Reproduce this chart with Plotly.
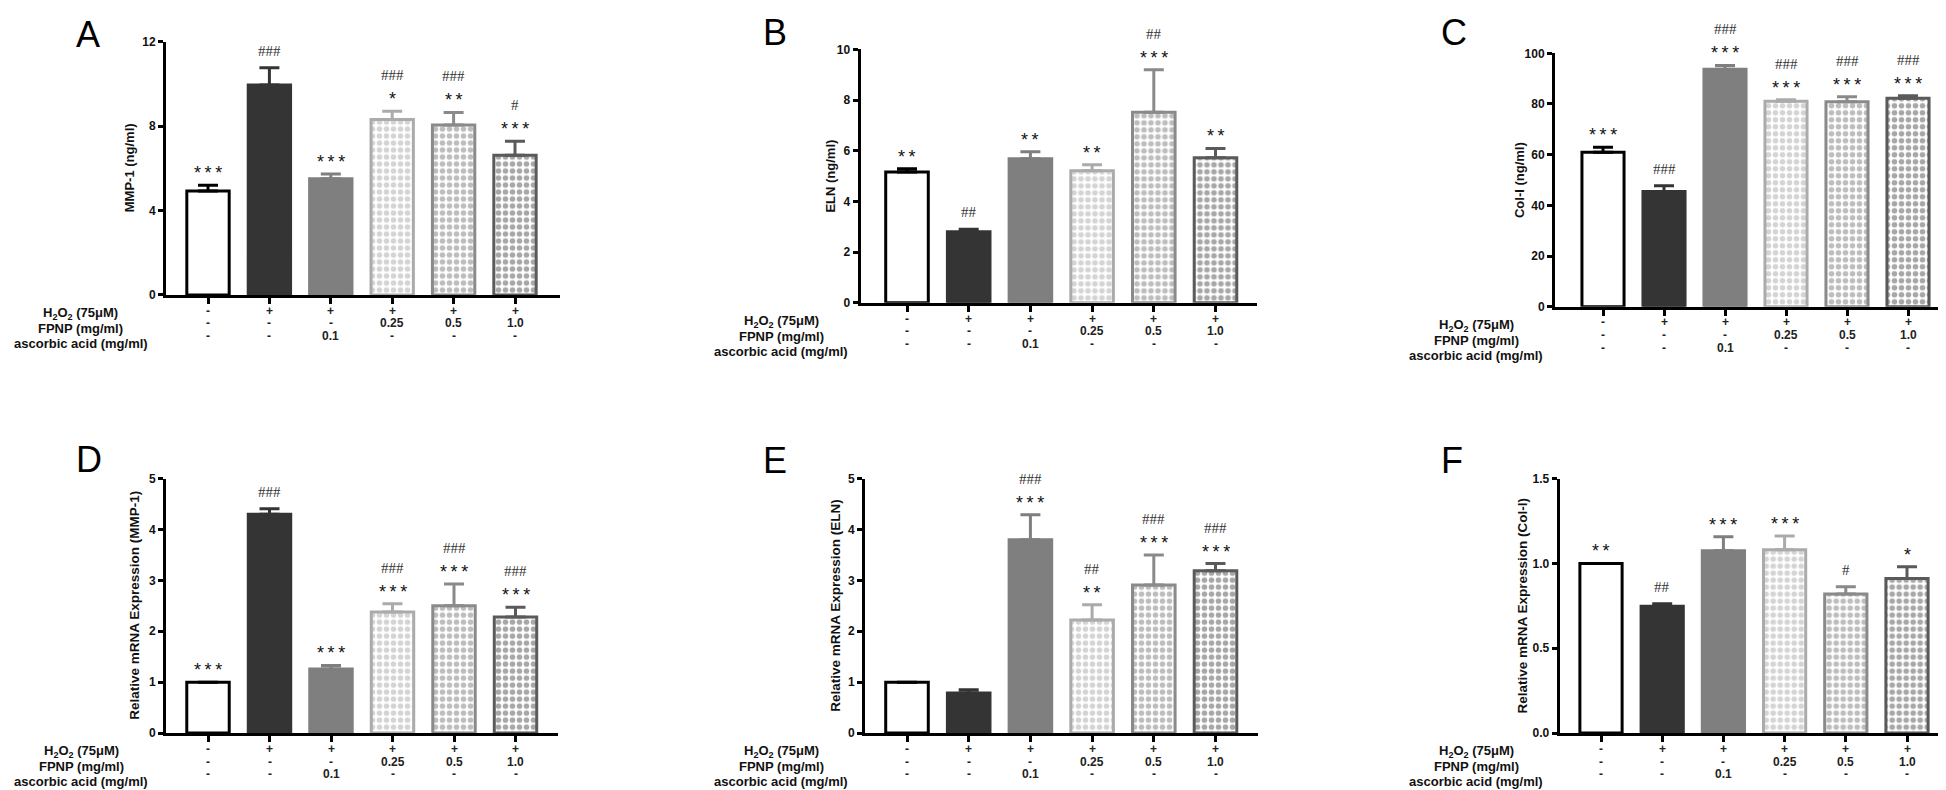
import plotly.graph_objects as go

W, H = 1946, 790

# ---------------- data ----------------
h2o2_row = ["-", "+", "+", "+", "+", "+"]
fpnp_row = ["-", "-", "-", "0.25", "0.5", "1.0"]
ascorbic_row = ["-", "-", "0.1", "-", "-", "-"]
row_titles = ["H<sub>2</sub>O<sub>2</sub> (75μM)", "FPNP (mg/ml)", "ascorbic acid (mg/ml)"]

a_mean = [4.92, 9.94, 5.50, 8.31, 8.05, 6.61]
a_err = [0.27, 0.82, 0.23, 0.39, 0.59, 0.67]
a_stars = ["***", "", "***", "*", "**", "***"]
a_hash = ["", "###", "", "###", "###", "#"]

b_mean = [5.16, 2.80, 5.68, 5.21, 7.52, 5.72]
b_err = [0.13, 0.10, 0.28, 0.24, 1.68, 0.37]
b_stars = ["**", "", "**", "**", "***", "**"]
b_hash = ["", "##", "", "", "##", ""]

c_mean = [61.0, 45.5, 93.7, 81.1, 80.9, 82.3]
c_err = [1.9, 2.2, 1.5, 0.6, 2.0, 1.0]
c_stars = ["***", "", "***", "***", "***", "***"]
c_hash = ["", "###", "###", "###", "###", "###"]

d_mean = [1.0, 4.30, 1.26, 2.38, 2.50, 2.28]
d_err = [0.0, 0.11, 0.07, 0.16, 0.43, 0.19]
d_stars = ["***", "", "***", "***", "***", "***"]
d_hash = ["", "###", "", "###", "###", "###"]

e_mean = [1.0, 0.785, 3.80, 2.22, 2.91, 3.19]
e_err = [0.0, 0.065, 0.49, 0.30, 0.59, 0.14]
e_stars = ["", "", "***", "**", "***", "***"]
e_hash = ["", "", "###", "##", "###", "###"]

f_mean = [1.0, 0.747, 1.075, 1.081, 0.820, 0.911]
f_err = [0.0, 0.016, 0.083, 0.081, 0.043, 0.070]
f_stars = ["**", "", "***", "***", "", "*"]
f_hash = ["", "##", "", "", "#", ""]

# ---------------- styles ----------------
fill_col = ["#ffffff", "#343434", "#7f7f7f", "#ffffff", "#ffffff", "#ffffff"]
pat_col = [None, None, None, "#a9a9a9", "#7c7c7c", "#4f4f4f"]
line_col = ["#000000", "#343434", "#7f7f7f", "#ababab", "#8a8a8a", "#5a5a5a"]

FONT = "Liberation Sans, Arial, sans-serif"
SERIF = "Liberation Serif, Times New Roman, serif"

panels = [
    dict(letter="A", mean=a_mean, err=a_err, stars=a_stars, hashes=a_hash, ytitle="MMP-1 (ng/ml)",
         yticks=[0, 4, 8, 12], fmt="", ymax=12, axl=158, axr=552, b0=200, b5=507, yt=27, yb=285,
         toff=37, lx=80, ly=20, rowx=72.5, tsize=13),
    dict(letter="B", mean=b_mean, err=b_err, stars=b_stars, hashes=b_hash, ytitle="ELN (ng/ml)",
         yticks=[0, 2, 4, 6, 8, 10], fmt="", ymax=10, axl=852.5, axr=1249, b0=899, b5=1207.5, yt=35, yb=293,
         toff=30, lx=767, ly=18, rowx=773, tsize=13),
    dict(letter="C", mean=c_mean, err=c_err, stars=c_stars, hashes=c_hash, ytitle="Col-I (ng/ml)",
         yticks=[0, 20, 40, 60, 80, 100], fmt="", ymax=100, axl=1547, axr=1940, b0=1595, b5=1900, yt=39, yb=297,
         toff=36, lx=1446, ly=18, rowx=1468, tsize=13),
    dict(letter="D", mean=d_mean, err=d_err, stars=d_stars, hashes=d_hash, ytitle="Relative mRNA Expression (MMP-1)",
         yticks=[0, 1, 2, 3, 4, 5], fmt="", ymax=5, axl=158, axr=550, b0=200, b5=507.5, yt=472, yb=731,
         toff=31, lx=81, ly=453, rowx=73, tsize=13.5),
    dict(letter="E", mean=e_mean, err=e_err, stars=e_stars, hashes=e_hash, ytitle="Relative mRNA Expression (ELN)",
         yticks=[0, 1, 2, 3, 4, 5], fmt="", ymax=5, axl=857, axr=1250, b0=899, b5=1207.5, yt=472, yb=731,
         toff=29, lx=767, ly=454, rowx=773, tsize=13.5),
    dict(letter="F", mean=f_mean, err=f_err, stars=f_stars, hashes=f_hash, ytitle="Relative mRNA Expression (Col-I)",
         yticks=[0, 0.5, 1.0, 1.5], fmt=".1f", ymax=1.5, axl=1551.7, axr=1940, b0=1593, b5=1899, yt=472, yb=731,
         toff=37, lx=1444, ly=454, rowx=1468, tsize=13.5),
]

row_value_off = [16, 29, 42]
row_label_off = [19, 34.5, 49.5]
rows = [h2o2_row, fpnp_row, ascorbic_row]


def px(x):
    return x / W


def py(y):
    return 1 - y / H


fig = go.Figure()
annotations = []
layout_axes = {}

for k, p in enumerate(panels):
    n = k + 1
    xa = "x" if n == 1 else f"x{n}"
    ya = "y" if n == 1 else f"y{n}"
    xkey = "xaxis" if n == 1 else f"xaxis{n}"
    ykey = "yaxis" if n == 1 else f"yaxis{n}"
    dx = (p["b5"] - p["b0"]) / 5.0
    xr = [(p["axl"] - p["b0"]) / dx, 5 + (p["axr"] - p["b5"]) / dx]

    for i in range(6):
        if pat_col[i] is None:
            pattern = dict(shape="")
        else:
            pattern = dict(shape=".", fgcolor=pat_col[i], bgcolor="#ffffff", size=7, solidity=0.5,
                           fillmode="overlay")
        fig.add_trace(go.Bar(
            x=[i], y=[p["mean"][i]], width=0.69,
            marker=dict(color=fill_col[i], line=dict(color=line_col[i], width=3), pattern=pattern),
            error_y=dict(type="data", array=[p["err"][i]], arrayminus=[0], symmetric=False,
                         color=line_col[i], thickness=3, width=10),
            xaxis=xa, yaxis=ya, showlegend=False, hoverinfo="skip",
        ))
        top = p["mean"][i] + p["err"][i]
        off = 17
        if p["stars"][i]:
            annotations.append(dict(
                x=i, y=top, xref=xa, yref=ya, text="\u2009".join(p["stars"][i]), showarrow=False,
                xanchor="center", yanchor="middle", yshift=off - 5,
                font=dict(family=FONT, size=18, color="#111111")))
            off += 19
        if p["hashes"][i]:
            annotations.append(dict(
                x=i, y=top, xref=xa, yref=ya, text=p["hashes"][i], showarrow=False,
                xanchor="center", yanchor="middle", yshift=off,
                font=dict(family=SERIF, size=15, color="#333333")))
        for r in range(3):
            annotations.append(dict(
                x=i, y=py(p["yb"] + row_value_off[r]), xref=xa, yref="paper", text=rows[r][i],
                showarrow=False, xanchor="center", yanchor="middle",
                font=dict(family=FONT, size=12, color="#222222", weight="bold")))

    for r in range(3):
        annotations.append(dict(
            x=px(p["rowx"]), y=py(p["yb"] + row_label_off[r]), xref="paper", yref="paper",
            text=row_titles[r], showarrow=False, xanchor="center", yanchor="middle",
            font=dict(family=FONT, size=13, color="#111111", weight="bold")))

    # y-axis title
    annotations.append(dict(
        x=px(p["axl"] - p["toff"]), y=py((p["yt"] + p["yb"]) / 2), xref="paper", yref="paper",
        text=p["ytitle"], textangle=-90, showarrow=False, xanchor="center", yanchor="middle",
        font=dict(family=FONT, size=p["tsize"], color="#111111", weight="bold")))
    # panel letter
    annotations.append(dict(
        x=px(p["lx"]), y=py(p["ly"]), xref="paper", yref="paper", text=p["letter"], showarrow=False,
        xanchor="center", yanchor="middle", font=dict(family=FONT, size=36, color="#000000")))

    layout_axes[xkey] = dict(
        domain=[px(p["axl"]), px(p["axr"])], range=xr, anchor=ya,
        tickvals=list(range(6)), ticks="outside", ticklen=6, tickwidth=3, tickcolor="#000000",
        showticklabels=False, showline=True, linewidth=3, linecolor="#000000",
        showgrid=False, zeroline=False, fixedrange=True)
    layout_axes[ykey] = dict(
        domain=[py(p["yb"]), py(p["yt"])], range=[0, p["ymax"]], anchor=xa,
        tickvals=p["yticks"], tickformat=p["fmt"], ticks="outside", ticklen=5, tickwidth=2.5,
        tickcolor="#000000", showline=True, linewidth=3, linecolor="#000000",
        showgrid=False, zeroline=False, fixedrange=True,
        tickfont=dict(family=FONT, size=12, color="#111111", weight="bold"))

fig.update_layout(
    width=W, height=H, margin=dict(l=0, r=0, t=0, b=0),
    paper_bgcolor="white", plot_bgcolor="white", barmode="overlay",
    annotations=annotations, showlegend=False,
    font=dict(family=FONT),
    **layout_axes,
)

fig.write_html("out.html")
